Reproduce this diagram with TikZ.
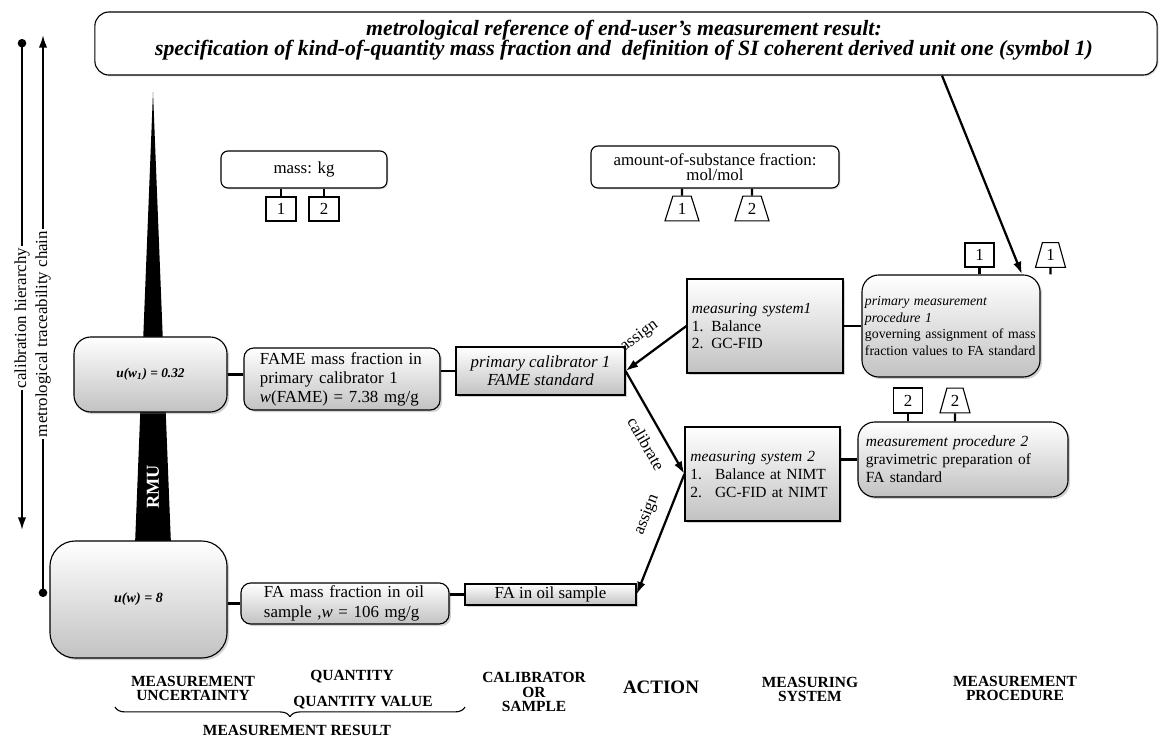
\documentclass[tikz,border=0pt]{standalone}
\usepackage{fontspec}
\setmainfont{Liberation Serif}
\usetikzlibrary{arrows.meta, positioning, shapes.geometric, shadows}
\usetikzlibrary{decorations.pathreplacing}

\begin{document}
\begin{tikzpicture}[
    x=0.025cm, y=-0.025cm, >=Latex,
    shade box/.style={draw, line width=0.8pt, top color=white, bottom color=black!24,
      drop shadow={opacity=0.35, shadow xshift=1.5pt, shadow yshift=-1.5pt}},
    rbox/.style={shade box, rounded corners=7pt, inner sep=0pt},
    sbox/.style={shade box, inner sep=0pt},
    unitbox/.style={draw, line width=0.8pt, rounded corners=5pt, fill=white, inner sep=0pt,
      drop shadow={opacity=0.25, shadow xshift=1pt, shadow yshift=-1pt}},
    sq/.style={draw, line width=0.8pt, fill=white, inner sep=0pt, minimum width=0.75cm,
      minimum height=0.6cm, font=\fontsize{12}{12}\selectfont},
    trap/.style={trapezium, trapezium angle=72, trapezium stretches=true, draw, line width=0.8pt,
      fill=white, inner sep=0pt, minimum width=0.85cm, minimum height=0.62cm,
      font=\fontsize{12}{12}\selectfont},
    stem/.style={line width=1.6pt},
    link/.style={line width=1.8pt},
    arr/.style={-{Latex[length=9pt, width=6pt]}, line width=1.6pt},
    rarr/.style={{Latex[length=9pt, width=6pt]}-, line width=1.6pt},
    chain/.style={line width=1.4pt},
    vlab/.style={rotate=90, fill=white, inner sep=1.5pt, font=\fontsize{12}{12}\selectfont},
    head/.style={align=center, font=\bfseries\fontsize{11}{10}\selectfont},
    actlab/.style={font=\fontsize{12}{12}\selectfont, inner sep=8pt}
  ]
    \useasboundingbox (0,0) rectangle (1167,750);

    % scales on the left
    \coordinate (calTop) at (22,39);
    \coordinate (calBot) at (22,530);
    \coordinate (mtcTop) at (43,35);
    \coordinate (mtcBot) at (43,597);
    \draw[chain, {Circle[length=6pt]}-{Latex[length=9pt, width=6pt]}] (calTop) -- (calBot);
    \draw[chain, {Latex[length=9pt, width=6pt]}-{Circle[length=6pt]}] (mtcTop) -- (mtcBot);
    \node[vlab] (calLab) at (22,318) {calibration hierarchy};
    \node[vlab] (mtcLab) at (43,334) {metrological traceability chain};

    % uncertainty wedge
    \fill (153,92) -- (171,545) -- (135,545) -- cycle;
    \node[rotate=90, text=white, font=\bfseries\fontsize{13}{13}\selectfont] (rmu) at (153,487) {RMU};

    % reference and units
    \node[unitbox, rounded corners=10pt, minimum width=26.55cm, minimum height=1.575cm] (ref) at (626,43.5) {};
    \node[align=center, font=\bfseries\itshape\fontsize{15.5}{14.5}\selectfont] (refText) at (624,40)
      {metrological reference of end-user's measurement result:\\
       specification of kind-of-quantity mass fraction and \ definition of SI coherent derived unit one (symbol 1)};
    \node[unitbox, minimum width=4.15cm, minimum height=0.925cm,
      font=\fontsize{12}{13}\selectfont] (mass) at (304,169.5) {mass: kg};
    \node[unitbox, minimum width=6.2cm, minimum height=1.05cm, align=center,
      font=\fontsize{12}{11}\selectfont] (amount) at (715,167)
      {amount-of-substance fraction:\\mol/mol};
    \node[sq] (mk1) at (281,209) {1};
    \node[sq] (mk2) at (324,209) {2};
    \node[trap] (mol1) at (682,208.5) {1};
    \node[trap] (mol2) at (752,208.5) {2};
    \draw[stem] (mk1) -- (mk1 |- mass.south);
    \draw[stem] (mk2) -- (mk2 |- mass.south);
    \draw[stem] (mol1) -- (mol1 |- amount.south);
    \draw[stem] (mol2) -- (mol2 |- amount.south);

    % measurement results
    \node[rbox, rounded corners=12pt, minimum width=3.825cm, minimum height=1.875cm,
      font=\bfseries\itshape\fontsize{9.5}{10}\selectfont] (uw1) at (150.5,374.5)
      {u(w\textsubscript{1}) = 0.32};
    \node[rbox, rounded corners=18pt, minimum width=4.425cm, minimum height=2.925cm,
      font=\bfseries\itshape\fontsize{10}{10}\selectfont] (uw) at (138.5,599.5)
      {u(w) = 8};
    \node[rbox, minimum width=4.9cm, minimum height=1.55cm, text width=4.1cm, align=left,
      font=\fontsize{12}{13.5}\selectfont] (fame) at (342,379)
      {FAME mass fraction in\\primary calibrator 1\\\textit{w}(FAME) = 7.38 mg/g};
    \node[rbox, minimum width=5.2cm, minimum height=1.025cm, text width=4.05cm, align=left,
      font=\fontsize{12}{14}\selectfont] (famass) at (345,603.5)
      {FA mass fraction in oil\\sample ,\textit{w} = 106 mg/g};

    % calibrators and samples
    \node[sbox, minimum width=4.225cm, minimum height=1.2cm, align=center,
      font=\itshape\fontsize{12}{12.8}\selectfont] (cal) at (540.5,371)
      {primary calibrator 1\\FAME standard};
    \node[sbox, minimum width=4.275cm, minimum height=0.525cm,
      font=\fontsize{12}{12}\selectfont] (faoil) at (550.5,594.5) {FA in oil sample};

    % measuring systems
    \node[sbox, minimum width=3.9cm, minimum height=2.35cm, text width=3.65cm, align=left,
      font=\fontsize{11}{12.5}\selectfont] (msys1) at (765,326)
      {\textit{measuring system1}\\1. Balance\\2. GC-FID};
    \node[sbox, minimum width=3.875cm, minimum height=2.35cm, text width=3.6cm, align=left,
      font=\fontsize{11}{12.8}\selectfont] (msys2) at (762.5,474)
      {\textit{measuring system 2}\\\makebox[17.5pt][l]{1.}Balance at NIMT\\\makebox[17.5pt][l]{2.}GC-FID at NIMT};

    % measurement procedures
    \node[rbox, rounded corners=12pt, minimum width=4.45cm, minimum height=2.55cm,
      text width=4.3cm, align=left, font=\fontsize{9.8}{11.8}\selectfont] (proc1) at (951,326)
      {\textit{primary measurement}\\\textit{procedure 1}\\governing assignment of mass\\fraction values to FA standard};
    \node[rbox, rounded corners=12pt, minimum width=5.25cm, minimum height=1.875cm,
      text width=4.85cm, align=left, font=\fontsize{11}{12.8}\selectfont] (proc2) at (963,459.5)
      {\textit{measurement procedure 2}\\gravimetric preparation of\\FA standard};
    \node[sq, minimum width=0.725cm] (p1k) at (979.5,255) {1};
    \node[trap, minimum width=0.75cm] (p1mol) at (1050.5,255) {1};
    \node[sq, minimum width=0.725cm, minimum height=0.625cm] (p2k) at (908,400.5) {2};
    \node[trap, minimum width=0.75cm] (p2mol) at (955,400.5) {2};
    \draw[stem] (p1k) -- (p1k |- proc1.north);
    \draw[stem] (p1mol) -- (p1mol |- proc1.north);
    \draw[stem] (p2k) -- (p2k |- proc2.north);
    \draw[stem] (p2mol) -- (p2mol |- proc2.north);

    % plain links
    \draw[link] (uw1.east) -- (uw1.east -| fame.west);
    \draw[link] (cal.west -| fame.east) -- (cal.west);
    \draw[link] (msys1.east) -- (msys1.east -| proc1.west);
    \draw[link] (msys2.east |- proc2.west) -- (proc2.west);
    \draw[link] (uw.east |- famass.west) -- (famass.west);
    \draw[link] (faoil.west -| famass.east) -- (faoil.west);

    % actions
    \draw[rarr] (cal.east) -- node[actlab, sloped, above, pos=0.42] {assign} (msys1.west);
    \draw[arr] (cal.east) -- node[actlab, sloped, below, pos=0.62] {calibrate} (msys2.west);
    \draw[rarr] (faoil.east) -- node[actlab, sloped, above, pos=0.6] {assign} (msys2.west);
    \draw[arr] (ref.south -| 942,0) -- (proc1.north -| 1022,0);

    % column headings
    \node[head] (hMU) at (193,688) {MEASUREMENT\\UNCERTAINTY};
    \node[head] (hQ) at (352,677) {QUANTITY};
    \node[head] (hQV) at (363,703) {QUANTITY VALUE};
    \node[head] (hCS) at (534,692) {CALIBRATOR\\OR\\SAMPLE};
    \node[head, font=\bfseries\fontsize{13.5}{13.5}\selectfont] (hAct) at (661,687) {ACTION};
    \node[head] (hMS) at (810,689) {MEASURING\\SYSTEM};
    \node[head] (hMP) at (1015,688) {MEASUREMENT\\PROCEDURE};
    \draw[line width=0.8pt, decorate, decoration={brace, amplitude=7pt}] (465,707) -- (115,707);
    \node[head, fill=white, minimum width=6.9cm, minimum height=0.65cm] (hMR) at (297,730) {MEASUREMENT RESULT};
\end{tikzpicture}
\end{document}
